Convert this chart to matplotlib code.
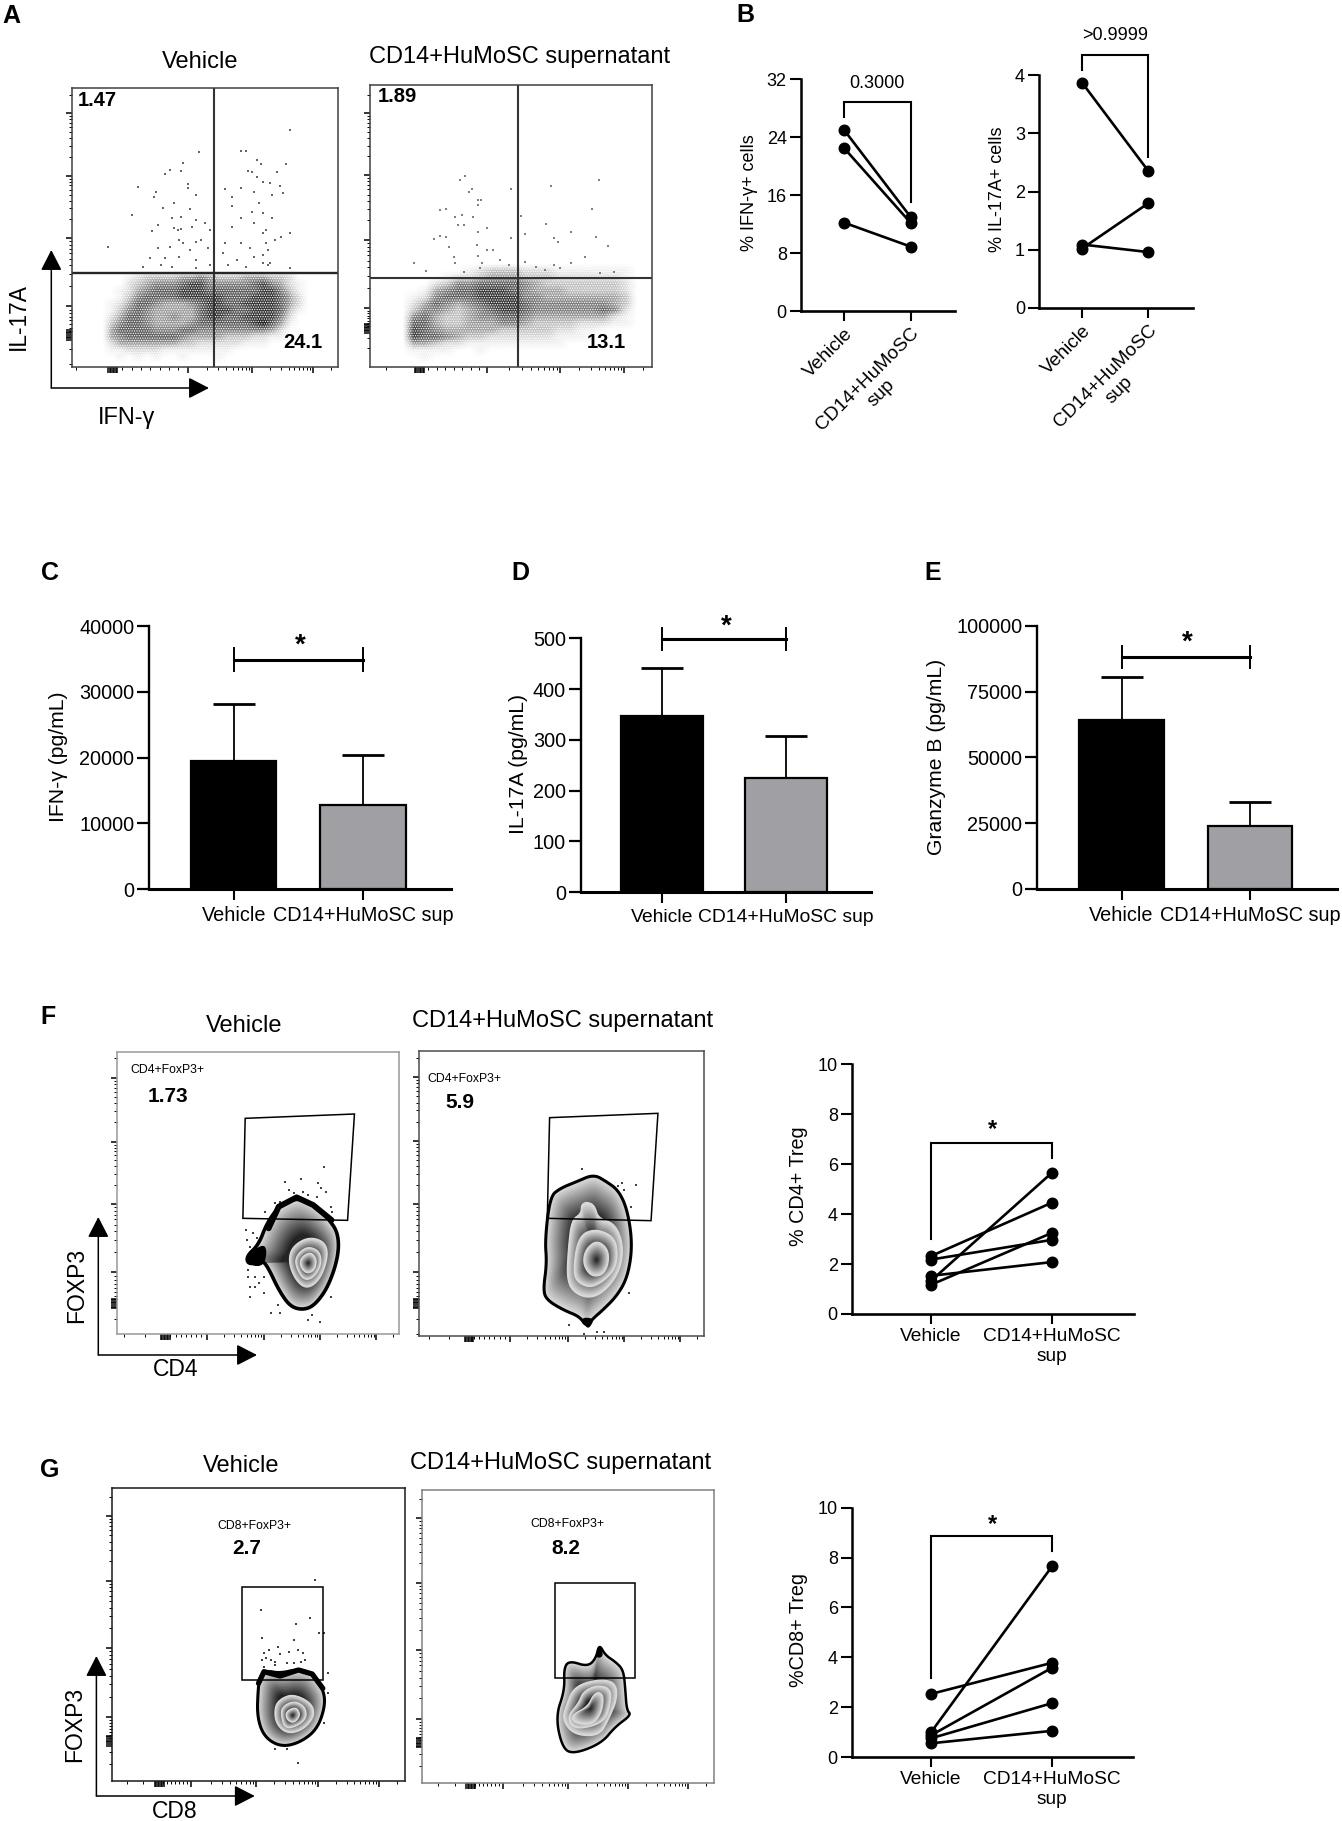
import numpy as np
import matplotlib
matplotlib.use("Agg")
import matplotlib.pyplot as plt
from matplotlib.patches import Rectangle
from matplotlib.transforms import ScaledTranslation

plt.rcParams['font.family'] = ['Liberation Sans', 'DejaVu Sans']
plt.rcParams['hatch.linewidth'] = 0.6

W, H = 1342, 1821

# ---- bar panels C, D, E
bar_labels = ["Vehicle", "CD14+HuMoSC sup"]
ifn_bar = [19500, 12800]
ifn_err = [8600, 7550]
il17_bar = [347, 224]
il17_err = [94, 84]
gzmb_bar = [64200, 23900]
gzmb_err = [16560, 9260]

# ---- paired panels
pair_labels = ["Vehicle", "CD14+HuMoSC\nsup"]
ifn_veh = [25.0, 22.5, 12.2]
ifn_sup = [13.0, 12.2, 8.9]
il17_veh = [3.87, 1.02, 1.09]
il17_sup = [2.35, 1.80, 0.96]
cd4_veh = [1.33, 2.32, 2.18, 1.17, 1.53]
cd4_sup = [5.66, 4.46, 2.97, 3.25, 2.08]
cd8_veh = [2.53, 0.99, 0.87, 0.75, 0.55]
cd8_sup = [3.78, 7.65, 3.58, 2.16, 1.05]

# ---- flow plots: values are read in crop pixels, used as channel units
a1_events = [(445,455),(540,453),(550,453),(410,490),(650,390),(575,480),(585,492),(640,493),(380,510),(405,512),
             (370,523),(555,513),(565,515),(620,517),(575,530),(590,545),(605,548),(628,557),(420,552),(420,565),
             (505,568),(540,565),(310,560),(350,577),(345,590),(440,585),(570,575),(610,585),(635,580),(520,590),
             (295,645),(390,610),(365,625),(425,628),(520,618),(580,610),(405,650),(385,655),(440,660),(460,670),
             (540,655),(565,635),(590,640),(610,655),(355,675),(340,693),(390,685),(405,687),(398,690),(595,690),
             (590,700),(430,680),(470,690),(520,680),(570,670),(650,700),(630,710),(243,740),(400,720),(410,728),
             (440,725),(450,720),(505,730),(540,730),(595,730),(615,720),(355,745),(380,740),(425,750),(465,745),
             (560,745),(600,750),(590,765),(335,775),(370,775),(400,770),(440,780),(500,760),(530,780),(570,770),
             (590,790),(600,795),(605,790),(360,795),(385,800),(470,795),(510,795),(550,800),(650,805),(320,800),
             (440,805)]
a2_events = [(1042,527),(1030,540),(1342,540),(1235,557),(1145,567),(1058,567),(1050,575),(1070,600),(1078,600),
             (1070,615),(985,630),(1000,628),(1327,628),(1020,650),(1035,645),(1060,650),(1168,648),(1025,675),
             (1040,675),(1222,672),(1090,683),(1070,695),(1280,697),(985,707),(1000,712),(972,717),(1145,715),
             (1240,715),(1250,725),(1335,712),(1175,703),(1363,738),(1005,742),(1068,735),(1090,750),(1105,750),
             (928,788),(1018,770),(1070,768),(955,812),(1020,790),(1080,790),(1120,780),(1140,795),(1200,800),
             (1240,795),(1280,790),(1310,770),(1175,785),(1220,810),(1255,805),(1345,820),(1375,815),(1040,815),
             (1075,805)]

# darkness 0-9 of the dense lower part of the dot plots
a1_density = ["0012333344543334443320",
              "0023455567755555675421",
              "0124566677766666677531",
              "0135666677777666777642",
              "1246654445677667777642",
              "1356544444677766777631",
              "2466544544677667777520",
              "3566544445666666786410",
              "4666655566555555554200",
              "4566666654444333221100",
              "2444444433222221110000",
              "1122221111111100000000",
              "0101010010001000000000"]
a2_density = ["00000123332221111111",
              "00012234443332222221",
              "00235566665433333332",
              "01456677765444333332",
              "12566677775544444443",
              "24654567776555555543",
              "35543456776555555652",
              "56433455665444444421",
              "66433444554333322211",
              "76544444333332211000",
              "76654332222221110000",
              "44322111111111000000",
              "11110010000000000000",
              "01000000000000000000"]

f1_contours = [[(646,532),(682,555),(715,595),(737,640),(737,710),(715,800),(686,855),(661,870),(632,860),(607,810),
                (585,745),(571,720),(542,735),(536,710),(563,675),(581,610),(607,560)],
               [(672,650),(708,665),(715,710),(697,780),(668,808),(643,780),(628,725),(636,680)],
               [(675,680),(697,695),(700,735),(682,775),(661,780),(646,745),(643,715),(657,690)],
               [(675,695),(690,715),(686,750),(668,762),(654,740),(654,715)]]
f2_contours = [[(1293,463),(1321,485),(1346,510),(1364,560),(1375,640),(1375,710),(1364,780),(1342,830),(1313,870),
                (1292,895),(1277,920),(1263,890),(1227,870),(1191,840),(1183,810),(1191,730),(1187,660),(1198,530),
                (1220,505),(1256,485)],
               [(1277,545),(1295,555),(1303,595),(1339,610),(1357,670),(1353,740),(1328,800),(1292,835),(1256,825),
                (1234,785),(1238,680),(1245,600),(1266,580),(1266,555)],
               [(1295,625),(1339,650),(1346,710),(1335,760),(1292,805),(1259,790),(1248,755),(1259,650)],
               [(1299,660),(1324,685),(1326,730),(1313,765),(1288,770),(1270,735),(1274,690)]]
g1_contours = [[(580,662),(610,670),(650,657),(680,670),(705,720),(708,770),(690,840),(650,880),(610,890),(575,860),
                (560,800),(562,720),(566,680)],
               [(640,732),(680,760),(685,800),(660,840),(625,852),(600,820),(598,770),(612,745)],
               [(640,752),(665,770),(668,805),(645,830),(620,835),(612,795),(615,770)],
               [(645,770),(655,795),(640,820),(625,810),(622,785)]]
g2_contours = [[(1240,632),(1280,650),(1298,625),(1305,582),(1318,615),(1340,635),(1358,660),(1362,720),(1365,780),
                (1375,795),(1340,830),(1310,880),(1250,912),(1225,895),(1210,800),(1230,720),(1228,655)],
               [(1300,688),(1340,695),(1345,745),(1325,810),(1305,858),(1250,855),(1225,810),(1232,770),(1250,710)],
               [(1300,705),(1330,715),(1330,760),(1315,820),(1250,840),(1235,800),(1260,760),(1270,725)],
               [(1305,725),(1315,740),(1310,790),(1290,825),(1250,820),(1245,795),(1280,770),(1292,735)]]

# solid black parts where the outlier events pile up on the outer contour
f1_blob = [(538,705),(572,672),(582,690),(575,738),(545,738)]
f1_rim = [(585,625),(607,560),(646,532),(682,555),(722,600)]
f2_blob = [(1265,892),(1295,895),(1284,925),(1275,920)]
g1_rim = [(563,700),(575,665),(610,678),(650,660),(680,672),(703,715)]
g2_blob = [(1296,625),(1305,580),(1316,620)]

f1_events = [(706,440),(620,485),(656,478),(692,490),(700,505),(660,515),(640,520),(610,545),(600,550),(578,575),
             (720,560),(724,575),(535,630),(550,640),(537,660),(560,655),(545,680),(540,750),(555,770),(565,790),
             (545,830),(575,820),(590,880),(605,855),(610,880),(670,900),(697,905),(680,885),(720,830),(630,510),
             (710,515),(670,525),(690,530),(540,770),(555,800),(575,770),(545,800)]
f2_events = [(1268,447),(1385,495),(1345,497),(1355,490),(1375,560),(1370,820),(1240,915),(1315,935),(1272,943),
             (1300,935),(1360,510)]
g1_events = [(685,390),(568,480),(675,505),(645,522),(640,570),(570,565),(605,590),(585,600),(575,610),(590,630),
             (600,635),(610,612),(630,605),(650,600),(660,610),(665,630),(575,650),(625,640),(695,550),(705,550),
             (650,938),(715,670),(715,730),(705,820),(598,898),(625,898),(600,645),(640,640),(655,635),(580,625),
             (570,630)]

f1_gate = [(534,295),(772,282),(757,601),(529,595)]
f2_gate = [(1197,293),(1433,280),(1418,602),(1192,595)]
g1_gate = [(527,410),(704,410),(704,690),(527,690)]
g2_gate = [(1209,400),(1384,400),(1384,683),(1209,683)]


def smooth(pts, n=3):
    # corner cutting so that the read polygons look like contours
    p = np.array(pts, dtype=float)
    for _ in range(n):
        q = np.roll(p, -1, axis=0)
        p = np.column_stack([0.75 * p + 0.25 * q, 0.25 * p + 0.75 * q]).reshape(-1, 2)
    return p


def flow_ticks(majors):
    zero, dec = majors[0], majors[1:]
    minor = []
    for a, b in zip(dec[:-1], dec[1:]):
        minor += [a + (b - a) * np.log10(k) for k in range(2, 10)]
    step = dec[-1] - dec[-2]
    minor += [dec[-1] + step * np.log10(k) for k in range(2, 10)]
    minor += list(np.linspace(zero, dec[0], 9)[1:-1])
    minor += list(zero - (dec[0] - zero) * np.array([0.5, 1.0]))
    cluster = list(zero + np.arange(-3, 4) * abs(step) * 0.025)
    return dec + cluster, minor


def flow_axes(box, crop, xmaj, ymaj, edge='0.25'):
    # box is x0, y0, x1, y1 in crop pixels, crop is origin and scale of that crop
    x0, y0, x1, y1 = box
    ox, oy, fx, fy = crop
    left, right = ox + x0 / fx, ox + x1 / fx
    top, bottom = oy + y0 / fy, oy + y1 / fy
    ax = fig.add_axes([left / W, 1 - bottom / H, (right - left) / W, (bottom - top) / H])
    xM, xm = flow_ticks(xmaj)
    yM, ym = flow_ticks(ymaj)
    ax.set_xticks(xM)
    ax.set_xticks(xm, minor=True)
    ax.set_yticks(yM)
    ax.set_yticks(ym, minor=True)
    ax.tick_params(which='major', length=4.5, width=1.1, labelbottom=False, labelleft=False)
    ax.tick_params(which='minor', length=2.4, width=0.7)
    ax.set_xlim(x0, x1)
    ax.set_ylim(y1, y0)
    for s in ax.spines.values():
        s.set_color(edge)
        s.set_linewidth(1.1)
    return ax


def density(ax, rows, x0, y0, dx, dy):
    d = np.array([[int(c) for c in r] for r in rows], dtype=float)
    d = np.pad(d, 1)
    xl, yl = ax.get_xlim(), ax.get_ylim()
    ext = (x0 - dx, x0 + dx * (d.shape[1] - 1), y0 + dy * (d.shape[0] - 1), y0 - dy)
    ax.imshow(d, cmap='Greys', vmin=0, vmax=8.5, aspect='auto', interpolation='bilinear', extent=ext)
    # white stipple gives the grain of single events
    ax.add_patch(Rectangle((ext[0], ext[3]), ext[1] - ext[0], ext[2] - ext[3], facecolor='none',
                           edgecolor='white', hatch='.......', lw=0))
    ax.set_xlim(xl)
    ax.set_ylim(yl)


def events(ax, pts, col='0.4', size=1.6):
    e = np.array(pts)
    ax.scatter(e[:, 0], e[:, 1], s=size, c=col, marker='s', linewidths=0)


def zebra(ax, contours, outer_lw=2.4, blobs=(), rims=()):
    for i, c in enumerate(contours):
        p = smooth(c)
        if i + 1 < len(contours):
            centre = np.mean(contours[i + 1], axis=0)
            scales = np.linspace(1, 0.45, 16)
        else:
            centre = p.mean(axis=0)
            scales = np.linspace(1, 0.05, 16)
        for s, g in zip(scales, np.linspace(0.86, 0.14, 16)):
            q = centre + (p - centre) * s
            ax.fill(q[:, 0], q[:, 1], color=str(round(g, 3)), lw=0)
        ax.fill(p[:, 0], p[:, 1], fill=False, edgecolor='k' if i == 0 else '0.85',
                lw=outer_lw if i == 0 else 0.9)
    for b in blobs:
        q = smooth(b, 2)
        ax.fill(q[:, 0], q[:, 1], color='k', lw=0)
    for r in rims:
        r = np.array(r)
        ax.plot(r[:, 0], r[:, 1], color='k', lw=outer_lw + 1.6, solid_capstyle='round')


def gate(ax, pts):
    g = np.array(pts)
    ax.fill(g[:, 0], g[:, 1], fill=False, edgecolor='k', lw=1.1)


def bar_panel(left, right, top, bottom, x0, x1, ymax, yticks, vals, errs, bracket, lab_size=14.3):
    ax = fig.add_axes([left / W, 1 - bottom / H, (right - left) / W, (bottom - top) / H])
    step = x1 - x0
    ax.set_xlim((left - x0) / step, (right - x0) / step)
    ax.set_ylim(0, ymax)
    ax.bar([0, 1], vals, width=0.66, color=['k', '#a0a0a4'], edgecolor='k', linewidth=1.6, zorder=2)
    ax.errorbar([0, 1], vals, yerr=[[0, 0], errs], fmt='none', ecolor='k', elinewidth=1.3,
                capsize=15, capthick=2.0, zorder=1)
    ax.set_xticks([0, 1])
    ax.set_xticklabels(bar_labels, fontsize=lab_size)
    ax.set_yticks(yticks)
    ax.tick_params(axis='y', labelsize=14.3, length=8.5, width=1.6, pad=2)
    ax.tick_params(axis='x', length=8, width=1.5, pad=4)
    for s in ['top', 'right']:
        ax.spines[s].set_visible(False)
    ax.spines['left'].set_linewidth(1.7)
    ax.spines['bottom'].set_linewidth(2.2)
    yb, ylo, yhi = bracket
    ax.plot([0, 1], [yb, yb], color='k', lw=2.2, clip_on=False, zorder=3)
    ax.plot([0, 0], [ylo, yhi], color='k', lw=1.4, clip_on=False, zorder=3)
    ax.plot([1, 1], [ylo, yhi], color='k', lw=1.4, clip_on=False, zorder=3)
    return ax


def pair_panel(left, right, top, bottom, x0, x1, ymax, yticks, veh, sup, bracket, rotate=False):
    ax = fig.add_axes([left / W, 1 - bottom / H, (right - left) / W, (bottom - top) / H])
    step = x1 - x0
    ax.set_xlim((left - x0) / step, (right - x0) / step)
    ax.set_ylim(0, ymax)
    for a, b in zip(veh, sup):
        ax.plot([0, 1], [a, b], color='k', lw=1.9, marker='o', ms=7.6, clip_on=False)
    ax.set_xticks([0, 1])
    ax.set_yticks(yticks)
    if rotate:
        ax.set_xticklabels(pair_labels, rotation=45, ha='right', rotation_mode='anchor',
                           ma='center', fontsize=13.8)
        ax.tick_params(axis='x', pad=3)
        shift = ScaledTranslation(-3 / 72, 0, fig.dpi_scale_trans)
        for t in ax.get_xticklabels():
            t.set_transform(t.get_transform() + shift)
    else:
        ax.set_xticklabels(pair_labels, fontsize=13.8, linespacing=1.25)
        ax.tick_params(axis='x', pad=3)
    ax.tick_params(axis='y', labelsize=13, length=8, width=1.5, pad=2)
    ax.tick_params(axis='x', length=7, width=1.5)
    for s in ['top', 'right']:
        ax.spines[s].set_visible(False)
    ax.spines['left'].set_linewidth(1.8)
    ax.spines['bottom'].set_linewidth(1.9)
    yb, ya, yc = bracket
    ax.plot([0, 0, 1, 1], [ya, yb, yb, yc], color='k', lw=1.5, clip_on=False, solid_joinstyle='miter')
    return ax


def ov_text(x, y, s, size, **kw):
    ov.text(x, y, s, fontsize=size, ha=kw.pop('ha', 'center'), va=kw.pop('va', 'center'), **kw)


def arrows(xc, ytop, ybot, xright):
    style = dict(arrowstyle='-|>,head_length=0.7,head_width=0.36', mutation_scale=18, color='k', lw=1.1,
                 shrinkA=0, shrinkB=0)
    ov.annotate('', xy=(xc, ytop), xytext=(xc, ybot), arrowprops=style)
    ov.annotate('', xy=(xright, ybot), xytext=(xc, ybot), arrowprops=style)


fig = plt.figure(figsize=(W / 100, H / 100), dpi=100)

# ---- A
crop_a = (0, 0, 2.24, 3)
ax = flow_axes((162, 265, 758, 1100), crop_a, [253, 420, 565, 700], [1005, 918, 715, 527, 340])
density(ax, a1_density, 240, 820, 20, 20)
events(ax, a1_events)
ax.axvline(479, color='0.2', lw=1.5)
ax.axhline(820, color='0.15', lw=1.7)

ax = flow_axes((829, 255, 1461, 1102), crop_a, [940, 1092, 1255, 1398], [985, 925, 720, 525, 340])
density(ax, a2_density, 915, 800, 25, 20)
events(ax, a2_events, col='0.5')
ax.axvline(1160, color='0.2', lw=1.5)
ax.axhline(833, color='0.2', lw=1.5)

# ---- B
pair_panel(800.7, 954.7, 79.3, 311, 844.1, 910.5, 32, [0, 8, 16, 24, 32], ifn_veh, ifn_sup,
           (28.9, 26.8, 15.0), rotate=True)
pair_panel(1039, 1192.6, 75, 308, 1082, 1148.4, 4, [0, 1, 2, 3, 4], il17_veh, il17_sup,
           (4.34, 4.09, 2.59), rotate=True)

# ---- C, D, E
bar_panel(149, 451, 626, 889.3, 233.7, 363, 40000, [0, 10000, 20000, 30000, 40000], ifn_bar, ifn_err,
          (34800, 33100, 36600))
bar_panel(580.5, 871, 638.3, 892, 662, 786, 500, [0, 100, 200, 300, 400, 500], il17_bar, il17_err,
          (498, 477, 520), lab_size=13.9)
bar_panel(1037, 1337, 626, 889, 1121.6, 1250, 100000, [0, 25000, 50000, 75000, 100000], gzmb_bar, gzmb_err,
          (88230, 84000, 92500))

# ---- F
crop_f = (0, 1020, 2.178, 3)
ax = flow_axes((254, 97, 870, 942), crop_f, [360, 450, 575, 697, 820], [850, 757, 552, 365, 173], edge='0.6')
events(ax, f1_events, col='0.25', size=2.0)
zebra(ax, f1_contours, 2.6, blobs=[f1_blob], rims=[f1_rim])
gate(ax, f1_gate)
ax = flow_axes((913, 93, 1533, 948), crop_f, [1022, 1110, 1237, 1360, 1482], [850, 757, 553, 362, 172], edge='0.3')
events(ax, f2_events, col='0.25', size=2.0)
zebra(ax, f2_contours, 2.2, blobs=[f2_blob])
gate(ax, f2_gate)
pair_panel(851.7, 1134, 1064.3, 1314, 931, 1052, 10, [0, 2, 4, 6, 8, 10], cd4_veh, cd4_sup,
           (6.85, 3.0, 6.26))

# ---- G
crop_g = (0, 1450, 2.178, 3)
ax = flow_axes((243, 115, 882, 992), crop_g, [347, 417, 557, 692, 825], [872, 802, 595, 392, 198], edge='0.1')
events(ax, g1_events, col='0.25', size=1.6)
zebra(ax, g1_contours, 2.2, rims=[g1_rim])
gate(ax, g1_gate)
ax = flow_axes((920, 121, 1555, 998), crop_g, [1025, 1095, 1238, 1368, 1498], [878, 808, 600, 398, 205], edge='0.5')
zebra(ax, g2_contours, 1.8, blobs=[g2_blob])
gate(ax, g2_gate)
pair_panel(851.7, 1133, 1507.8, 1757, 931, 1052, 10, [0, 2, 4, 6, 8, 10], cd8_veh, cd8_sup,
           (8.87, 3.16, 8.26))

# ---- texts and arrows on top of everything, in figure pixels
ov = fig.add_axes([0, 0, 1, 1], zorder=20)
ov.set_xlim(0, W)
ov.set_ylim(H, 0)
ov.axis('off')
ov.patch.set_alpha(0)

for x, y, s in [(11, 16, "A"), (745, 15, "B"), (50, 573, "C"), (520, 573, "D"), (933, 573, "E"),
                (48, 1017, "F"), (50, 1470, "G")]:
    ov_text(x, y, s, 18, fontweight='bold')

ov_text(200, 61.5, "Vehicle", 17)
ov_text(520, 57.5, "CD14+HuMoSC supernatant", 17)
ov_text(97, 100, "1.47", 14.5, fontweight='bold')
ov_text(303, 342, "24.1", 14.5, fontweight='bold')
ov_text(397, 97, "1.89", 14.5, fontweight='bold')
ov_text(606, 342, "13.1", 14.5, fontweight='bold')
arrows(51.3, 250, 388, 209)
ov_text(18, 317, "IL-17A", 16.4, rotation=90)
ov_text(127, 418, "IFN-γ", 17)

ov_text(877, 83, "0.3000", 13)
ov_text(1115.6, 35, ">0.9999", 13)
ov_text(750, 193, "% IFN-γ+ cells", 13, rotation=90)
ov_text(997, 189, "% IL-17A+ cells", 13, rotation=90)

ov_text(58, 757, "IFN-γ (pg/mL)", 15.2, rotation=90)
ov_text(518, 764, "IL-17A (pg/mL)", 15.2, rotation=90)
ov_text(936, 757, "Granzyme B (pg/mL)", 15.2, rotation=90)
ov_text(300, 646, "*", 20, fontweight='bold')
ov_text(726, 627, "*", 20, fontweight='bold')
ov_text(1187, 643, "*", 20, fontweight='bold')

ov_text(244, 1025.5, "Vehicle", 17)
ov_text(563, 1021.5, "CD14+HuMoSC supernatant", 17)
ov_text(167, 1070, "CD4+FoxP3+", 8.8)
ov_text(167.6, 1097, "1.73", 15, fontweight='bold')
ov_text(464.6, 1079, "CD4+FoxP3+", 8.8)
ov_text(459.6, 1102, "5.9", 15, fontweight='bold')
arrows(98.3, 1217, 1355, 257)
ov_text(76.7, 1285, "FOXP3", 16.5, rotation=90)
ov_text(176, 1370, "CD4", 16.5)
ov_text(798, 1186, "% CD4+ Treg", 14.2, rotation=90)
ov_text(992, 1130, "*", 17, fontweight='bold')

ov_text(241, 1465.5, "Vehicle", 17)
ov_text(561, 1462.5, "CD14+HuMoSC supernatant", 17)
ov_text(254, 1526, "CD8+FoxP3+", 8.8)
ov_text(246.6, 1549, "2.7", 15, fontweight='bold')
ov_text(567, 1524, "CD8+FoxP3+", 8.8)
ov_text(566, 1548, "8.2", 15, fontweight='bold')
arrows(96.4, 1656, 1796, 254.8)
ov_text(74.8, 1724, "FOXP3", 16.5, rotation=90)
ov_text(174.5, 1811, "CD8", 16.5)
ov_text(798, 1630, "%CD8+ Treg", 14.2, rotation=90)
ov_text(992, 1525, "*", 17, fontweight='bold')

fig.savefig("out.png", dpi=100)
